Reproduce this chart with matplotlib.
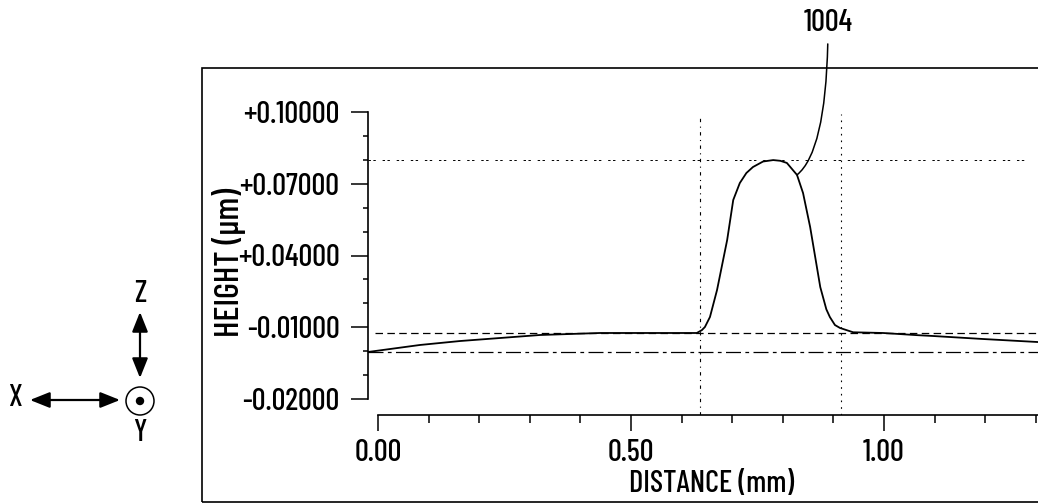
"""Surface profile: height vs distance with peak 1004 (patent-style figure)."""
import numpy as np
import matplotlib
matplotlib.use("Agg")
import matplotlib.pyplot as plt
from matplotlib.patches import Rectangle, Circle, FancyArrowPatch

# --- data ---
DIST_MM = [-0.020, 0.083, 0.162, 0.241, 0.320, 0.439, 0.630, 0.640, 0.646,
           0.656, 0.670, 0.690, 0.702, 0.715, 0.728, 0.741, 0.761, 0.781,
           0.795, 0.808, 0.828, 0.840, 0.854, 0.874, 0.886, 0.893, 0.903,
           0.913, 0.939, 0.998, 1.065, 1.097, 1.196, 1.304]
HEIGHT_UM = [-0.01345, -0.01247, -0.01192, -0.01150, -0.01108, -0.01080,
             -0.01080, -0.01040, -0.00985, -0.00286, 0.01596, 0.04648,
             0.06321, 0.07030, 0.07450, 0.07700, 0.07930, 0.07990, 0.07960,
             0.07870, 0.07370, 0.06610, 0.05190, 0.01800, 0.00250, -0.00290,
             -0.00845, -0.01010, -0.01070, -0.01080, -0.01110, -0.01122,
             -0.01164, -0.01206]

Y_TICKS = [-0.02, -0.01, 0.04, 0.07, 0.10]
X_TICKS = [0.0, 0.5, 1.0]
X_MINOR = [0.1, 0.2, 0.3, 0.4, 0.6, 0.7, 0.8, 0.9, 1.1, 1.2, 1.3]

BASE_LEVEL = -0.0108      # dashed reference
LOW_LEVEL = -0.01345      # dash-dot reference
PEAK_LEVEL = 0.0800       # dotted reference at peak top
EDGE_X = [0.636, 0.915]   # vertical markers
EDGE_TOP = 0.0992
LABEL_X = 0.828           # where the 1004 leader meets the curve

plt.rcParams["font.family"] = ["Barlow Condensed", "Archivo Narrow", "DejaVu Sans"]
plt.rcParams["font.weight"] = 500
plt.rcParams["axes.labelweight"] = 500

# piecewise-linear axis: the tick labels are evenly spaced but not evenly valued
tv = np.array(Y_TICKS)
tp = np.arange(len(tv), dtype=float)


def forward(v):
    v = np.asarray(v, dtype=float)
    p = np.interp(v, tv, tp)
    lo = (v - tv[0]) / (tv[1] - tv[0])
    hi = tp[-1] + (v - tv[-1]) / (tv[-1] - tv[-2])
    return np.where(v < tv[0], lo, np.where(v > tv[-1], hi, p))


def inverse(p):
    p = np.asarray(p, dtype=float)
    v = np.interp(p, tp, tv)
    lo = tv[0] + p * (tv[1] - tv[0])
    hi = tv[-1] + (p - tp[-1]) * (tv[-1] - tv[-2])
    return np.where(p < tp[0], lo, np.where(p > tp[-1], hi, v))


W, H = 1038, 504
fig = plt.figure(figsize=(W / 100, H / 100), dpi=100)
ax = fig.add_axes([368 / W, (H - 415) / H, 1 - 368 / W, (415 - 110) / H])
ax.set_yscale("function", functions=(forward, inverse))
ax.set_xlim(-0.0198, 1.3043)
ax.set_ylim(float(inverse(-16 / 71.75)), float(inverse(4 + 2 / 71.75)))

ax.plot(DIST_MM, HEIGHT_UM, color="black", lw=1.3, zorder=3)

x0, x1 = ax.get_xlim()
ax.hlines(BASE_LEVEL, -0.006, x1, colors="black", lw=0.9, linestyles=(0, (6, 3.5)))
ax.hlines(LOW_LEVEL, x0, x1, colors="black", lw=0.9, linestyles=(0, (12, 3.5, 3, 3.5)))
ax.hlines(PEAK_LEVEL, x0, 1.283, colors="black", lw=0.7, linestyles=(0, (2.5, 2.5, 2.5, 7)))
ybot = ax.get_ylim()[0]
ax.vlines(EDGE_X[0], ybot, EDGE_TOP, colors="black", lw=0.8, linestyles=(0, (3, 4, 1, 4)))
ax.vlines(EDGE_X[1], ybot, EDGE_TOP, colors="black", lw=0.8, linestyles=(0, (1.5, 4.5)))

# axes styling
for s in ["top", "right"]:
    ax.spines[s].set_visible(False)
ax.spines["left"].set_bounds(Y_TICKS[0], Y_TICKS[-1])
ax.spines["bottom"].set_bounds(0, x1)
for s in ["left", "bottom"]:
    ax.spines[s].set_linewidth(1.2)

ax.set_yticks(Y_TICKS)
ax.set_yticklabels([f"{v:+.5f}" for v in Y_TICKS])
ax.set_yticks(inverse([k + f for k in range(4) for f in (1 / 3, 2 / 3)]), minor=True)
ax.set_xticks(X_TICKS)
ax.set_xticklabels([f"{v:.2f}" for v in X_TICKS])
ax.set_xticks(X_MINOR, minor=True)
ax.tick_params(axis="y", which="major", length=12, width=1.1, pad=8.5, labelsize=22)
ax.tick_params(axis="y", which="minor", length=3.5, width=1.1)
ax.tick_params(axis="x", which="major", length=11.5, width=1.1, pad=6, labelsize=22)
ax.tick_params(axis="x", which="minor", length=5.5, width=1.1)

ax.set_xlabel("DISTANCE (mm)", fontsize=22)
ax.xaxis.set_label_coords((712 - 368) / (W - 368), -(484 - 415) / 305)
ax.xaxis.label.set_va("center")
ax.set_ylabel("HEIGHT (\u00b5m)", fontsize=25)
ax.yaxis.set_label_coords((229 - 368) / (W - 368), (415 - 262) / 305)
ax.yaxis.label.set_va("center")

# leader line to the profile
ax.annotate("1004", xy=(LABEL_X, np.interp(LABEL_X, DIST_MM, HEIGHT_UM)),
            xytext=(828 / W, 1 - 23 / H), textcoords="figure fraction",
            ha="center", va="center", fontsize=22, annotation_clip=False,
            arrowprops=dict(arrowstyle="-", color="black", lw=1.1,
                            shrinkA=3, shrinkB=0,
                            connectionstyle="angle3,angleA=90,angleB=39"))

# outer frame and coordinate triad (inches from bottom-left)
inch = fig.dpi_scale_trans
fig.add_artist(Rectangle((2.02, 0.02), 9.0, 4.34, transform=inch, fill=False,
                         edgecolor="black", lw=1.2, clip_on=False))
fig.add_artist(FancyArrowPatch((0.30, 1.04), (1.20, 1.04), transform=inch,
                               arrowstyle="<|-|>,head_length=0.8,head_width=0.32",
                               mutation_scale=15, color="black", lw=1.6,
                               shrinkA=0, shrinkB=0))
fig.add_artist(FancyArrowPatch((1.40, 1.92), (1.40, 1.26), transform=inch,
                               arrowstyle="<|-|>,head_length=0.8,head_width=0.32",
                               mutation_scale=15, color="black", lw=1.6,
                               shrinkA=0, shrinkB=0))
fig.add_artist(Circle((1.40, 1.03), 0.14, transform=inch, fill=False,
                      edgecolor="black", lw=1.1))
fig.add_artist(Circle((1.40, 1.03), 0.035, transform=inch, color="black"))
fig.text(0.15, 1.06, "X", transform=inch, ha="center", va="center", fontsize=22)
fig.text(1.40, 2.10, "Z", transform=inch, ha="center", va="center", fontsize=22)
fig.text(1.40, 0.71, "Y", transform=inch, ha="center", va="center", fontsize=22)

fig.savefig("out.png", dpi=100)
